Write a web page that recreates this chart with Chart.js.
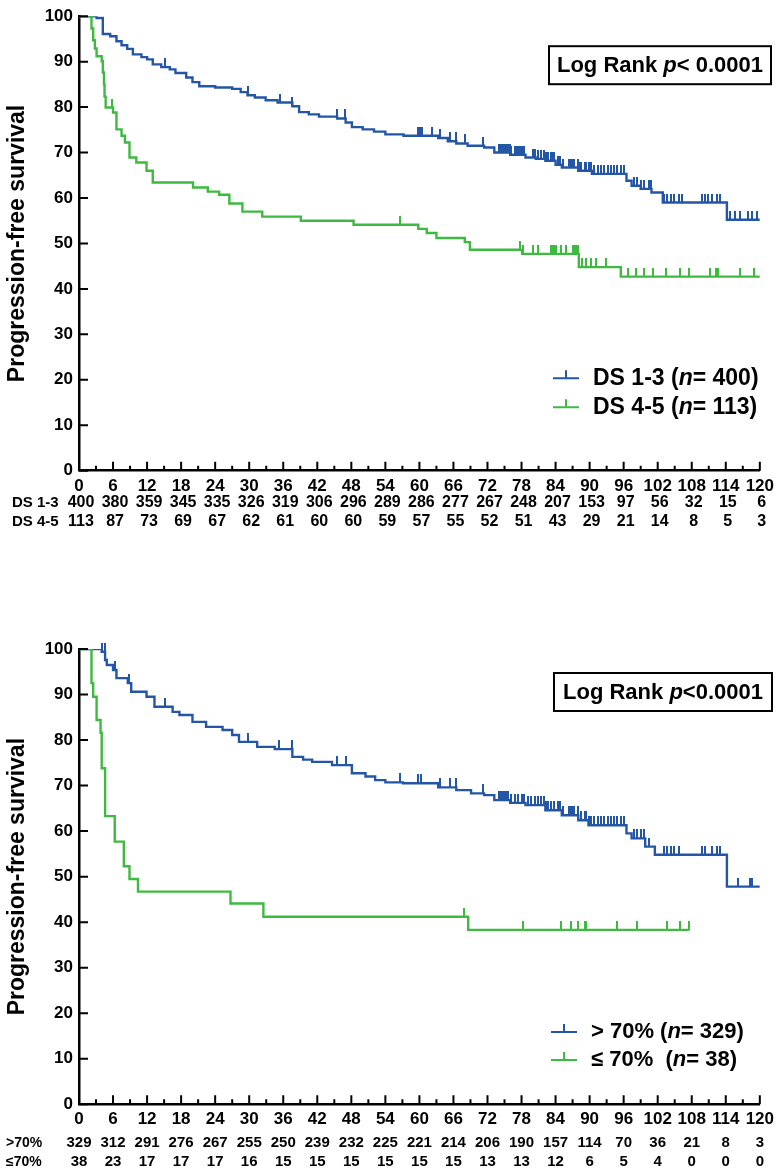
<!DOCTYPE html>
<html>
<head>
<meta charset="utf-8">
<script src="https://cdn.jsdelivr.net/npm/chart.js@4.4.1/dist/chart.umd.min.js"></script>
<style>
  body { margin: 0; background: #fff; width: 779px; height: 1172px; overflow: hidden; }
  .panel { position: absolute; left: 0; }
</style>
</head>
<body>
<div class="panel" style="top:0"><canvas id="dsChart" width="779" height="545"></canvas></div>
<div class="panel" style="top:560px"><canvas id="pctChart" width="779" height="612"></canvas></div>
<script>
// months shown under the x axis for the numbers at risk
const riskMonths = [0, 6, 12, 18, 24, 30, 36, 42, 48, 54, 60, 66, 72, 78, 84, 90, 96, 102, 108, 114, 120];

// DS 1-3 group
const ds13Time = [0, 3.1, 4.2, 5.5, 6.6, 7.5, 8.5, 9.5, 11, 12, 13, 14.5, 16, 17, 18.9, 20, 21.2, 24, 27, 28.5, 29.7, 31, 32.9, 35, 37.6, 38.8, 40.5, 42.3, 45.5, 47, 48.1, 50, 52, 54, 57.2, 63.3, 65, 66.5, 68.5, 71.4, 73.2, 76, 78.7, 80.5, 82.2, 84, 85.1, 88, 90.4, 96.5, 97.4, 99, 100.9, 102.9, 114.2, 120];
const ds13Surv = [100, 99.6, 96.1, 95.6, 94.5, 93.6, 92.8, 91.6, 91, 90.5, 89.4, 88.8, 88.3, 87.5, 86.5, 85.5, 84.6, 84.3, 84.0, 83.3, 82.6, 82.1, 81.5, 81, 80.2, 78.9, 78.4, 77.9, 77.5, 76.6, 75.6, 75.1, 74.6, 74.0, 73.7, 73.2, 72.5, 72.0, 71.5, 71.1, 70.0, 69.5, 68.9, 68.6, 68.2, 67.3, 66.7, 66.0, 65.3, 63.8, 62.7, 62, 61.2, 59.0, 55.2, 55.2];
const ds13Censor = [4.3, 15.2, 29.7, 35.4, 37.6, 45.5, 46.8, 59.8, 60.1, 60.4, 62.2, 63.6, 65.4, 66.4, 68.0, 71.2, 74.1, 74.4, 74.7, 75.0, 75.3, 75.6, 75.9, 76.2, 76.8, 77.1, 77.4, 77.7, 78.0, 78.2, 78.5, 80.0, 80.3, 80.9, 81.5, 82.0, 82.3, 82.6, 83.2, 83.5, 83.8, 84.4, 84.7, 85.3, 86.4, 86.7, 87.0, 87.3, 87.9, 88.2, 88.5, 89.1, 89.4, 89.9, 90.2, 90.8, 91.4, 92.0, 92.6, 93.2, 93.7, 94.3, 94.9, 95.5, 96.1, 97.8, 98.4, 99.0, 99.6, 100.5, 100.8, 103.1, 103.7, 104.3, 104.8, 105.7, 106.3, 109.8, 110.4, 110.9, 111.5, 112.4, 113.0, 114.8, 115.7, 116.5, 118.0, 118.6, 119.5];

// DS 4-5 group
const ds45Time = [0, 1.9, 2.2, 2.5, 2.8, 3.1, 4.0, 4.2, 4.4, 4.5, 4.7, 6.0, 6.6, 7.5, 8.1, 8.9, 10.1, 11.9, 13.0, 20.1, 22.7, 24.7, 26.5, 28.8, 32.3, 39.1, 48.4, 59.8, 61.3, 63.0, 68.0, 68.9, 78.1, 88.1, 95.5, 120];
const ds45Surv = [100, 100, 97.3, 94.7, 92.9, 91.2, 90.1, 87.6, 85.0, 82.3, 79.9, 78.8, 75.1, 73.7, 72.2, 68.9, 67.8, 66.0, 63.4, 62.3, 61.4, 60.7, 58.8, 57.0, 55.9, 55.0, 54.1, 53.2, 52.3, 51.2, 50.3, 48.6, 47.7, 44.8, 42.7, 42.7];
const ds45Censor = [5.9, 56.6, 77.7, 78.2, 80.0, 80.9, 83.2, 83.5, 83.8, 84.1, 84.9, 85.8, 87.0, 87.3, 87.6, 87.9, 88.6, 89.4, 90.2, 91.1, 92.9, 96.7, 98.1, 99.6, 101.2, 103.4, 106.0, 107.5, 111.3, 112.2, 112.7, 116.5, 118.9];

// > 70% group
const highTime = [0, 2.8, 4.0, 4.6, 4.9, 6.0, 6.6, 8.6, 9.2, 11.9, 13.3, 16.5, 17.7, 20, 22.4, 25.3, 27, 28.2, 31.4, 34.5, 37.6, 39.5, 41.1, 44.6, 48.1, 50.5, 52.2, 54, 57.1, 63.3, 66.5, 69.1, 71.4, 73.2, 76, 78.7, 82.2, 85.1, 88, 89.8, 96.5, 97.4, 99.8, 101.5, 114.2, 120];
const highSurv = [100, 100, 99.4, 97.6, 96.5, 95.4, 93.6, 92.5, 90.6, 89.5, 87.3, 86.2, 85.5, 84.0, 82.9, 82.2, 81.1, 79.6, 78.5, 78.0, 76.3, 75.7, 75.2, 74.5, 72.7, 72.0, 71.2, 70.7, 70.5, 69.6, 69.0, 68.3, 67.9, 66.8, 66.2, 65.7, 64.6, 63.5, 62.4, 61.3, 59.5, 58.4, 56.6, 54.8, 47.8, 47.8];
const highCensor = [4.1, 4.5, 6.4, 8.9, 15.2, 29.7, 35.3, 37.5, 45.5, 47.0, 56.6, 59.7, 60.3, 63.6, 65.4, 66.4, 71.2, 74.1, 74.4, 74.7, 75.0, 75.3, 75.6, 76.2, 76.8, 77.4, 78.0, 78.5, 79.1, 79.7, 80.3, 80.9, 81.5, 82.0, 82.3, 82.6, 83.2, 83.8, 84.4, 84.7, 85.3, 86.4, 86.7, 87.0, 87.3, 87.9, 88.5, 89.1, 89.4, 89.9, 90.2, 90.8, 91.4, 92.0, 92.6, 93.2, 93.7, 94.3, 94.9, 95.5, 96.1, 97.8, 98.4, 99.0, 99.6, 100.5, 103.1, 103.7, 104.3, 104.8, 105.7, 109.8, 110.4, 111.5, 112.4, 113.0, 116.2, 118.3, 118.6];

// <= 70% group
const lowTime = [0, 1.8, 2.2, 2.5, 3.1, 3.8, 4.0, 4.6, 6.3, 7.9, 8.9, 10.4, 26.7, 32.5, 68.6, 107.6];
const lowSurv = [100, 100, 92.5, 89.5, 84.4, 81.6, 73.8, 63.3, 57.7, 52.3, 49.5, 46.7, 44.1, 41.2, 38.3, 38.3];
const lowCensor = [67.9, 78.2, 85.0, 86.7, 87.9, 89.1, 89.4, 94.9, 98.4, 103.6, 106.0, 107.5];

// numbers at risk
const riskDs13 = [400, 380, 359, 345, 335, 326, 319, 306, 296, 289, 286, 277, 267, 248, 207, 153, 97, 56, 32, 15, 6];
const riskDs45 = [113, 87, 73, 69, 67, 62, 61, 60, 60, 59, 57, 55, 52, 51, 43, 29, 21, 14, 8, 5, 3];
const riskHigh = [329, 312, 291, 276, 267, 255, 250, 239, 232, 225, 221, 214, 206, 190, 157, 114, 70, 36, 21, 8, 3];
const riskLow = [38, 23, 17, 17, 17, 16, 15, 15, 15, 15, 15, 15, 13, 13, 12, 6, 5, 4, 0, 0, 0];

const BLUE = '#2456a6';
const GREEN = '#3dba3f';
const FONT = '"Liberation Sans", Arial, sans-serif';

Chart.defaults.font.family = FONT;
Chart.defaults.color = '#000';

function stepValue(time, surv, t) {
  let v = surv[0];
  for (let i = 0; i < time.length; i++) if (time[i] <= t) v = surv[i];
  return v;
}

// small vertical bar sitting on top of the curve
function censorMark(color) {
  const c = document.createElement('canvas');
  c.width = 2; c.height = 18;
  const g = c.getContext('2d');
  g.fillStyle = color;
  g.fillRect(0, 0, 2, 9);
  return c;
}

function curveSets(label, color, time, surv, censor) {
  return [
    {
      label: label,
      data: time.map((t, i) => ({ x: t, y: surv[i] })),
      borderColor: color, borderWidth: 2.4, stepped: true,
      pointRadius: 0, fill: false, tension: 0
    },
    {
      label: label + ' censored',
      data: censor.map(t => ({ x: t, y: stepValue(time, surv, t) })),
      showLine: false, pointStyle: censorMark(color), pointRadius: 4,
      borderColor: color, backgroundColor: color, clip: 12
    }
  ];
}

// inward tick marks on both axes
const innerTicks = {
  id: 'innerTicks',
  afterDraw(chart) {
    const { ctx, scales: { x, y } } = chart;
    ctx.save();
    ctx.strokeStyle = '#000';
    ctx.lineWidth = 2;
    ctx.beginPath();
    for (let m = 0; m <= 120; m += 3) {
      const px = x.getPixelForValue(m);
      const len = m % 6 === 0 ? 9 : 5;
      ctx.moveTo(px, y.bottom);
      ctx.lineTo(px, y.bottom - len);
    }
    for (let v = 0; v <= 100; v += 10) {
      const py = y.getPixelForValue(v);
      ctx.moveTo(x.left, py);
      ctx.lineTo(x.left + 9, py);
    }
    ctx.stroke();
    ctx.restore();
  }
};

// numbers at risk, legend and log-rank box
const extras = {
  id: 'extras',
  afterDraw(chart, args, opts) {
    const { ctx, chartArea, scales: { x } } = chart;
    ctx.save();
    ctx.fillStyle = '#000';
    ctx.textBaseline = 'middle';

    // risk table
    opts.risk.forEach((row, r) => {
      const py = chartArea.bottom + opts.riskRows[r];
      ctx.textAlign = 'left';
      ctx.font = 'bold ' + opts.riskLabelSize + 'px ' + FONT;
      ctx.fillText(row.label, opts.riskLabelX, py);
      ctx.textAlign = 'center';
      ctx.font = 'bold ' + opts.riskSize + 'px ' + FONT;
      row.values.forEach((v, i) => {
        ctx.fillText(String(v), x.getPixelForValue(riskMonths[i]) + opts.riskShift, py);
      });
    });

    // mixed upright / italic text runs
    function runs(parts, px, py, size) {
      let cx = px;
      parts.forEach(p => {
        ctx.font = (p.italic ? 'italic ' : '') + 'bold ' + size + 'px ' + FONT;
        ctx.textAlign = 'left';
        ctx.fillText(p.t, cx, py);
        cx += ctx.measureText(p.t).width;
      });
      return cx - px;
    }

    // legend
    opts.legend.forEach((item, i) => {
      const py = chartArea.top + opts.legendY + i * opts.legendGap;
      ctx.strokeStyle = item.color;
      ctx.lineWidth = 2;
      ctx.beginPath();
      ctx.moveTo(opts.legendX, py);
      ctx.lineTo(opts.legendX + 26, py);
      ctx.moveTo(opts.legendX + 13, py);
      ctx.lineTo(opts.legendX + 13, py - 8);
      ctx.stroke();
      runs(item.parts, opts.legendX + 40, py, opts.legendSize);
    });

    // log rank box
    const b = opts.box;
    ctx.strokeStyle = '#000';
    ctx.lineWidth = 2;
    ctx.strokeRect(b.x, chartArea.top + b.y, b.w, b.h);
    let w = 0;
    b.parts.forEach(p => {
      ctx.font = (p.italic ? 'italic ' : '') + 'bold ' + b.size + 'px ' + FONT;
      w += ctx.measureText(p.t).width;
    });
    runs(b.parts, b.x + (b.w - w) / 2, chartArea.top + b.y + b.h / 2 + 1, b.size);
    ctx.restore();
  }
};

function makeChart(id, padTop, plotBottom, canvasH, datasets, extra) {
  return new Chart(document.getElementById(id), {
    type: 'line',
    data: { datasets: datasets },
    options: {
      responsive: false,
      animation: false,
      layout: { padding: { top: padTop, right: 16, left: 0, bottom: 0 } },
      plugins: { legend: { display: false }, tooltip: { enabled: false }, extras: extra },
      scales: {
        x: {
          type: 'linear', min: 0, max: 120,
          border: { color: '#000', width: 2.5 },
          grid: { display: false, drawTicks: false },
          ticks: { stepSize: 6, autoSkip: false, maxRotation: 0, padding: 5, font: { size: 17, weight: 'bold' } },
          afterFit(s) { s.height = canvasH - plotBottom; }
        },
        y: {
          min: 0, max: 100,
          border: { color: '#000', width: 2.5 },
          grid: { display: false, drawTicks: false },
          ticks: { stepSize: 10, padding: 6, font: { size: 17, weight: 'bold' } },
          title: { display: true, text: 'Progression-free survival', padding: { top: 4, bottom: 0 }, font: { size: 23, weight: 'bold' } },
          afterFit(s) { s.width = 79; }
        }
      }
    },
    plugins: [innerTicks, extras]
  });
}

makeChart('dsChart', 15, 470.7, 545,
  [...curveSets('DS 4-5', GREEN, ds45Time, ds45Surv, ds45Censor),
   ...curveSets('DS 1-3', BLUE, ds13Time, ds13Surv, ds13Censor)],
  {
    risk: [{ label: 'DS 1-3', values: riskDs13 }, { label: 'DS 4-5', values: riskDs45 }],
    riskRows: [32.3, 51.3], riskSize: 16, riskLabelSize: 15, riskLabelX: 12, riskShift: 2,
    legend: [
      { color: BLUE, parts: [{ t: 'DS 1-3 (' }, { t: 'n', italic: true }, { t: '= 400)' }] },
      { color: GREEN, parts: [{ t: 'DS 4-5 (' }, { t: 'n', italic: true }, { t: '= 113)' }] }
    ],
    legendX: 553, legendY: 362, legendGap: 29, legendSize: 23,
    box: { x: 549, y: 30, w: 222, h: 38, size: 22,
      parts: [{ t: 'Log Rank ' }, { t: 'p', italic: true }, { t: '< 0.0001' }] }
  });

makeChart('pctChart', 89, 544.3, 612,
  [...curveSets('≤ 70%', GREEN, lowTime, lowSurv, lowCensor),
   ...curveSets('> 70%', BLUE, highTime, highSurv, highCensor)],
  {
    risk: [{ label: '>70%', values: riskHigh }, { label: '≤70%', values: riskLow }],
    riskRows: [38.7, 57.7], riskSize: 15, riskLabelSize: 14, riskLabelX: 6, riskShift: 0,
    legend: [
      { color: BLUE, parts: [{ t: '> 70% (' }, { t: 'n', italic: true }, { t: '= 329)' }] },
      { color: GREEN, parts: [{ t: '≤ 70%  (' }, { t: 'n', italic: true }, { t: '= 38)' }] }
    ],
    legendX: 551, legendY: 383, legendGap: 28, legendSize: 22,
    box: { x: 554, y: 24, w: 218, h: 38, size: 22,
      parts: [{ t: 'Log Rank ' }, { t: 'p', italic: true }, { t: '<0.0001' }] }
  });
</script>
</body>
</html>
